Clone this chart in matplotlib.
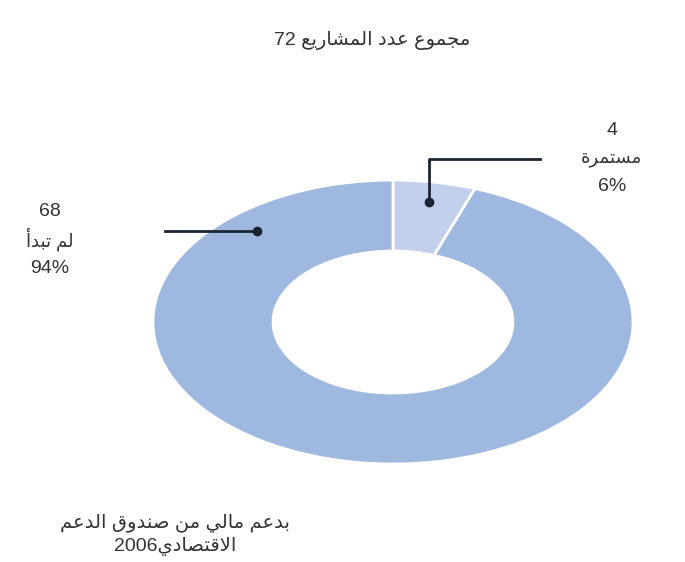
import re
import numpy as np
import matplotlib
matplotlib.use("Agg")
import matplotlib.pyplot as plt

# project counts
statuses = ["مستمرة", "لم تبدأ"]
counts = [4, 68]
colors = ["#c3d0eb", "#9fb8e0"]
title = "مجموع عدد المشاريع 72"
note = ["بدعم مالي من صندوق الدعم", "الاقتصادي2006"]

# arabic letter -> (isolated presentation form, joins to the next letter)
AR_FORMS = {
    'ا': (0xFE8D, False), 'أ': (0xFE83, False), 'ب': (0xFE8F, True),
    'ة': (0xFE93, False), 'ت': (0xFE95, True), 'ج': (0xFE9D, True),
    'د': (0xFEA9, False), 'ر': (0xFEAD, False), 'س': (0xFEB1, True),
    'ش': (0xFEB5, True), 'ص': (0xFEB9, True), 'ع': (0xFEC9, True),
    'ق': (0xFED5, True), 'ل': (0xFEDD, True), 'م': (0xFEE1, True),
    'ن': (0xFEE5, True), 'و': (0xFEED, False), 'ي': (0xFEF1, True),
}
LAM_ALEF = {'ا': 0xFEFB, 'أ': 0xFEF7}


def shape_word(word):
    units = []
    i = 0
    while i < len(word):
        c = word[i]
        if c == 'ل' and i + 1 < len(word) and word[i + 1] in LAM_ALEF:
            units.append((LAM_ALEF[word[i + 1]], False))
            i += 2
        else:
            units.append(AR_FORMS[c])
            i += 1
    out = []
    for k, (base, joins) in enumerate(units):
        prev = k > 0 and units[k - 1][1]
        nxt = joins and k + 1 < len(units)
        if prev and nxt:
            off = 3
        elif prev:
            off = 1
        elif nxt:
            off = 2
        else:
            off = 0
        out.append(chr(base + off))
    return ''.join(out)


def rtl(text):
    # shape each arabic run and lay the line out right to left
    tokens = re.findall(r'[\u0600-\u06FF]+|[^\u0600-\u06FF\s]+|\s+', text)
    tokens = [shape_word(t)[::-1] if re.match(r'[\u0600-\u06FF]', t) else t
              for t in tokens]
    return ''.join(tokens[::-1])


FONT = ['Liberation Sans', 'DejaVu Sans']
TXT = '#333333'
LINE = '#1c2433'

fig = plt.figure(figsize=(6.85, 5.62), dpi=100)
ax = fig.add_axes([0, 0, 1, 1])

wedges, _ = ax.pie(counts, colors=colors, startangle=90, counterclock=False,
                   radius=1.0,
                   wedgeprops=dict(width=0.5, edgecolor='white', linewidth=2))
ax.set_aspect('auto')
ax.set_xlim(-1.6375, 1.2167)
ax.set_ylim(-1.690, 2.268)
ax.axis('off')

total = sum(counts)
pcts = [round(100 * c / total) for c in counts]

# small wedge: dot at its middle, leader goes up then right
theta = np.deg2rad(90 - 360 * counts[0] / total / 2)
dx, dy = 0.86 * np.cos(theta), 0.86 * np.sin(theta)
ax.plot([dx, dx, 0.6125], [dy, 1.148, 1.148], color=LINE, lw=2)
ax.plot(dx, dy, 'o', color=LINE, ms=6)
ax.text(0.912, 1.35, str(counts[0]), ha='center', va='center', fontsize=14,
        color=TXT, family=FONT)
ax.text(0.912, 1.155, rtl(statuses[0]), ha='center', va='center', fontsize=13,
        color=TXT, family=FONT)
ax.text(0.912, 0.955, f"{pcts[0]}%", ha='center', va='center', fontsize=14,
        color=TXT, family=FONT)

# large wedge: dot in the upper left part of the ring, leader goes left
theta = np.deg2rad(131.5)
dx, dy = 0.855 * np.cos(theta), 0.855 * np.sin(theta)
ax.plot([dx, -0.95], [dy, dy], color=LINE, lw=2)
ax.plot(dx, dy, 'o', color=LINE, ms=6)
ax.text(-1.43, 0.775, str(counts[1]), ha='center', va='center', fontsize=14,
        color=TXT, family=FONT)
ax.text(-1.43, 0.58, rtl(statuses[1]), ha='center', va='center', fontsize=13,
        color=TXT, family=FONT)
ax.text(-1.43, 0.375, f"{pcts[1]}%", ha='center', va='center', fontsize=14,
        color=TXT, family=FONT)

fig.text(372 / 685, 1 - 40 / 562, rtl(title), ha='center', va='center',
         fontsize=14, color=TXT, family=FONT)
fig.text(175 / 685, 1 - 535 / 562, '\n'.join(rtl(s) for s in note),
         ha='center', va='center', multialignment='center', fontsize=14,
         color=TXT, family=FONT, linespacing=1.35)

fig.savefig('out.png', dpi=100)
